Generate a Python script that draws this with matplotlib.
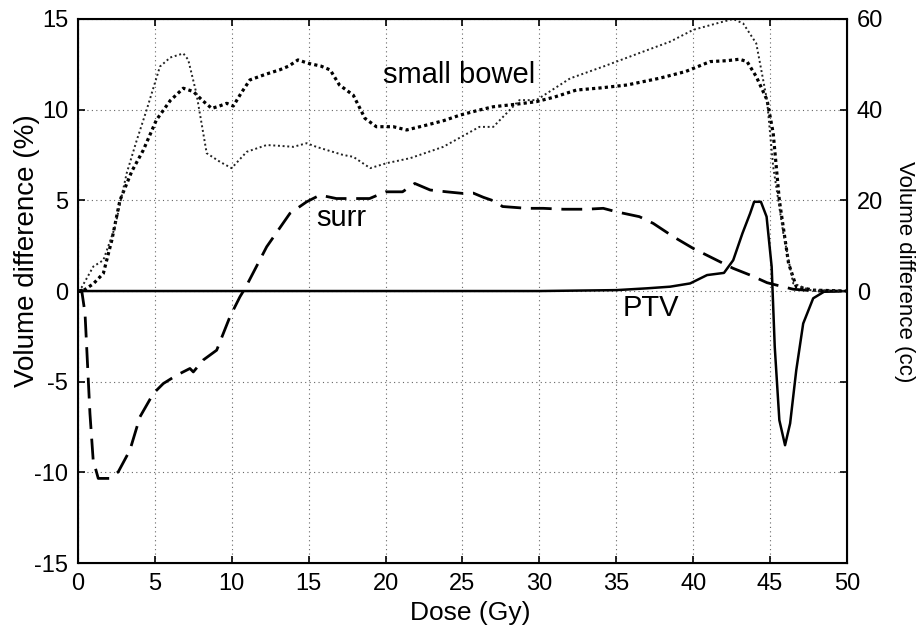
import matplotlib
matplotlib.use('Agg')
from matplotlib import pyplot as plt

plt.rcParams['font.family'] = ['Liberation Sans', 'DejaVu Sans']
plt.rcParams['axes.unicode_minus'] = False

# small bowel (%) - heavy dotted, left axis
bowel_pct_x = [0.0, 0.24, 1.0, 1.65, 2.2, 2.73, 3.5, 4.25, 5.1, 6.0, 6.85, 7.5, 8.1, 8.7, 9.2,
               9.67, 10.1, 10.6, 11.18, 12.2, 13.1, 13.7, 14.3, 15.0, 15.8, 16.4, 17.0, 17.9,
               18.66, 19.4, 20.5, 21.37, 22.67, 23.8, 24.84, 26.1, 27.0, 28.5, 29.8, 31.0,
               32.4, 34.0, 35.7, 37.8, 39.5, 41.1, 42.2, 43.0, 43.5, 44.1, 44.8, 45.2, 45.6,
               46.2, 46.7, 47.8, 50.0]
bowel_pct_y = [0.0, -0.04, 0.4, 0.97, 2.8, 5.0, 6.6, 7.77, 9.43, 10.5, 11.18, 11.0, 10.5, 10.07, 10.2,
               10.35, 10.2, 10.9, 11.64, 11.95, 12.19, 12.4, 12.74, 12.55, 12.4, 12.19, 11.36, 10.8,
               9.52, 9.06, 9.06, 8.88, 9.15, 9.4, 9.7, 9.98, 10.16, 10.3, 10.44, 10.7,
               11.08, 11.2, 11.36, 11.73, 12.1, 12.65, 12.7, 12.78, 12.65, 11.82, 10.53, 8.7, 5.0,
               1.52, 0.24, 0.05, 0.0]

# small bowel (cc) - fine dotted, right axis
bowel_cc_x = [0.0, 0.24, 1.0, 1.65, 2.4, 3.17, 3.8, 4.47, 5.33, 6.0, 6.85, 7.17, 7.7, 8.37, 9.23,
              9.99, 10.97, 12.27, 13.2, 14.0, 14.87, 15.5, 16.17, 17.25, 17.9, 19.0, 20.07, 21.6,
              23.75, 26.1, 27.0, 28.7, 29.8, 32.0, 34.15, 36.75, 38.5, 40.0, 41.5, 42.6, 43.25,
              44.1, 44.8, 45.2, 45.86, 46.5, 47.6, 50.0]
bowel_cc_y = [0.0, 0.8, 5.4, 6.8, 14.0, 26.0, 33.0, 40.0, 49.5, 51.5, 52.4, 51.0, 43.6, 30.4, 28.5,
              27.1, 30.7, 32.2, 32.0, 31.8, 32.6, 31.8, 31.1, 30.0, 29.6, 27.1, 28.2, 29.3,
              31.8, 36.2, 36.2, 42.1, 42.1, 46.9, 49.5, 52.8, 55.0, 57.6, 59.0, 60.0, 59.0,
              54.6, 42.0, 27.4, 12.7, 1.7, 0.2, 0.0]

# surr - dashed
surr_x = [0.0, 0.24, 0.46, 0.78, 0.99, 1.32, 2.08, 2.62, 3.38, 4.03, 4.9, 5.55, 6.42, 7.28, 7.5,
          8.15, 9.02, 9.88, 10.53, 10.9, 12.27, 13.78, 14.87, 15.73, 16.8, 17.9, 18.96, 20.0,
          21.1, 21.9, 22.9, 23.97, 25.05, 25.7, 26.35, 27.2, 27.6, 29.17, 30.25, 31.55, 33.07,
          34.15, 35.0, 36.5, 37.4, 38.7, 40.0, 41.3, 42.6, 43.7, 44.8, 45.4, 46.5, 48.0, 50.0]
surr_y = [0.0, 0.05, -1.23, -6.75, -9.32, -10.33, -10.33, -9.97, -8.77, -6.94, -5.65, -5.1, -4.64, -4.27, -4.46,
          -3.8, -3.26, -1.42, -0.32, 0.2, 2.44, 4.28, 4.92, 5.29, 5.1, 5.1, 5.1, 5.47,
          5.47, 5.93, 5.57, 5.47, 5.38, 5.4, 5.17, 4.92, 4.66, 4.56, 4.56, 4.51, 4.51,
          4.56, 4.37, 4.1, 3.73, 3.0, 2.35, 1.8, 1.25, 0.88, 0.46, 0.33, 0.1, 0.0, 0.0]

# PTV - solid
ptv_x = [0.0, 30.0, 35.0, 37.0, 38.5, 39.8, 40.9, 42.0, 42.6, 43.2, 43.7, 43.96, 44.4, 44.77,
         45.1, 45.3, 45.6, 45.97, 46.3, 46.7, 47.15, 47.8, 48.5, 50.0]
ptv_y = [0.0, 0.0, 0.05, 0.15, 0.24, 0.42, 0.88, 1.0, 1.7, 3.18, 4.28, 4.92, 4.92, 4.1,
         1.34, -3.07, -7.12, -8.5, -7.3, -4.36, -1.79, -0.4, -0.04, 0.0]

fig = plt.figure(figsize=(9.17, 6.32), dpi=100)
ax = fig.add_axes([0.085, 0.109, 0.8387, 0.861])
ax2 = ax.twinx()

ax.plot(ptv_x, ptv_y, color='black', linewidth=1.8, solid_joinstyle='round')
ax.plot(surr_x, surr_y, color='black', linewidth=2.0, dashes=(7.5, 3.5))
ax.plot(bowel_pct_x, bowel_pct_y, color='black', linewidth=2.3, linestyle=(0, (1, 1)))
ax2.plot(bowel_cc_x, bowel_cc_y, color='#222222', linewidth=1.4, linestyle=(0, (1, 1.4)))

ax.set_xlim(0, 50)
ax.set_ylim(-15, 15)
ax2.set_ylim(-60, 60)
ax.set_xticks(range(0, 51, 5))
ax.set_yticks(range(-15, 16, 5))
ax2.set_yticks([-40, -20, 0, 20, 40, 60])
ax2.set_yticklabels(['', '', '0', '20', '40', '60'])

ax.grid(True, color='#666666', linestyle=(0, (1, 3)), linewidth=0.8)
ax.tick_params(direction='in', length=5, width=1.2, labelsize=17, top=True, pad=7)
ax2.tick_params(direction='in', length=5, width=1.2, labelsize=17, pad=7)
for sp in ax.spines.values():
    sp.set_linewidth(1.5)

ax.set_xlabel('Dose (Gy)', fontsize=19)
ax.xaxis.set_label_coords(0.51, -0.07)
ax.set_ylabel('Volume difference (%)', fontsize=20, va='center')
ax.yaxis.set_label_coords(-0.066, 0.575)
ax2.set_ylabel('Volume difference (cc)', fontsize=16, rotation=270, va='center')
ax2.yaxis.set_label_coords(1.075, 0.535)

ax.text(24.8, 11.9, 'small bowel', fontsize=21, ha='center', va='center')
ax.text(15.5, 4.0, 'surr', fontsize=21, ha='left', va='center')
ax.text(35.4, -0.95, 'PTV', fontsize=21, ha='left', va='center')

fig.savefig('out.png', dpi=100)
